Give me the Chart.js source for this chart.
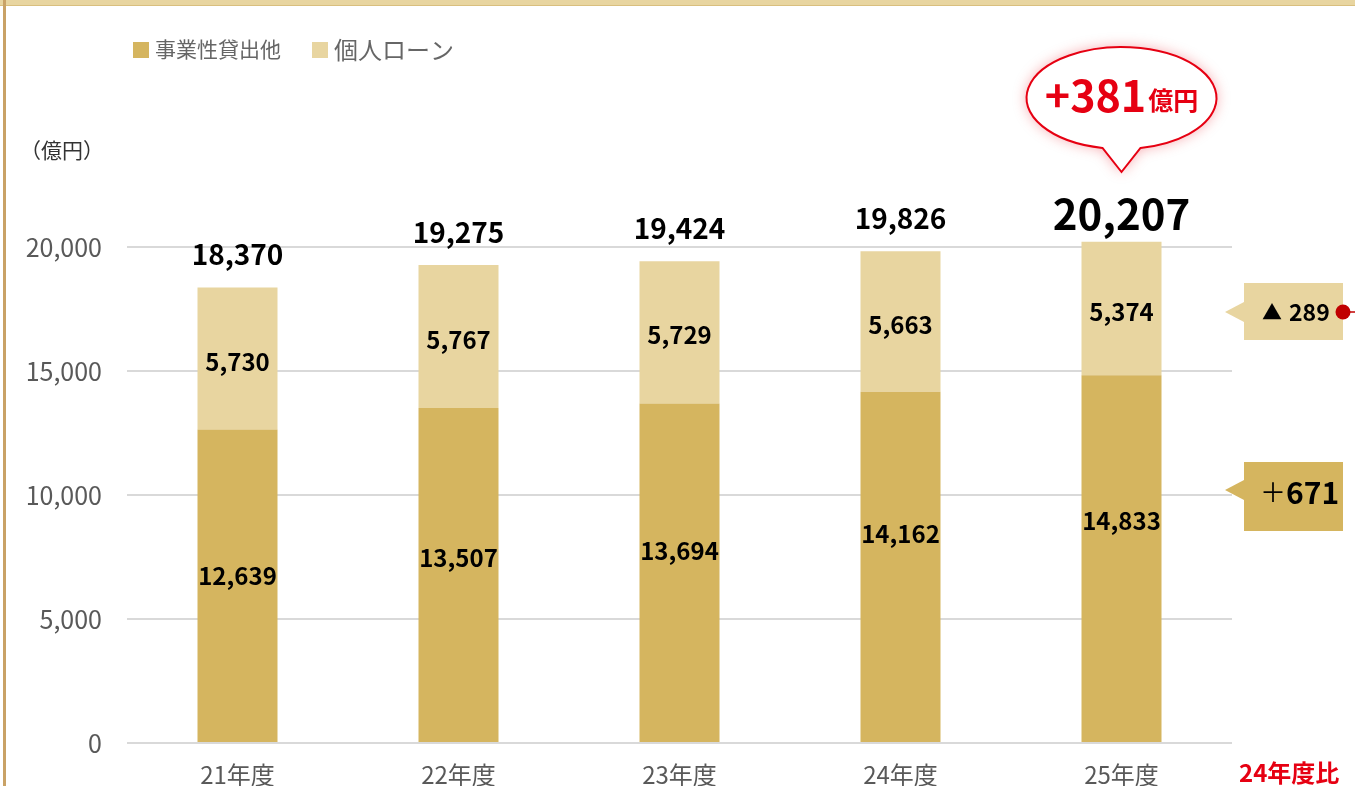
<!DOCTYPE html>
<html lang="ja">
<head>
<meta charset="utf-8" />
<title>貸出金残高の推移</title>
<style>
html,body{margin:0;padding:0;background:#fff;}
#wrap{position:relative;width:1355px;height:786px;overflow:hidden;}
#topband{position:absolute;left:0;top:0;width:1355px;height:5px;background:#e8d5a0;border-bottom:1px solid #d9bf7e;}
#leftline{position:absolute;left:3px;top:0;width:3px;height:786px;background:#c9a266;}
canvas{position:absolute;left:0;top:0;}
</style>
</head>
<body>
<div id="wrap">
  <canvas id="chart" width="1355" height="786"></canvas>
  <div id="topband"></div>
  <div id="leftline"></div>
</div>

<script src="https://cdn.jsdelivr.net/npm/chart.js@4.4.1"></script>
<script>
/* ─────────── data ─────────── */
const years     = ['21年度','22年度','23年度','24年度','25年度'];
const business  = [12639, 13507, 13694, 14162, 14833];   // 事業性貸出他
const personal  = [5730, 5767, 5729, 5663, 5374];        // 個人ローン
const totals    = [18370, 19275, 19424, 19826, 20207];
const seriesNames = ['事業性貸出他','個人ローン'];
const diffPersonal = '289';   // ▲
const diffBusiness = '671';   // ＋
const diffTotal    = '381';

const DARK  = '#d5b55f';
const LIGHT = '#e8d5a0';
const RED   = '#e60012';
const FONT  = '"Noto Sans CJK JP","Noto Sans",sans-serif';

/* ─────────── labels, callout, side notes ─────────── */
const decor = {
    id:'decor',
    afterDatasetsDraw(chart){
        const {ctx, scales:{x,y}} = chart;
        const fmt = v => v.toLocaleString('en-US');
        ctx.save();
        ctx.textAlign = 'center';
        ctx.textBaseline = 'middle';
        ctx.fillStyle = '#000';

        // segment labels (business labels sit a bit above the middle in the original)
        const nudge = [-10,-18,-22,-34,-38];
        ctx.font = 'bold 24px ' + FONT;
        years.forEach((_,i)=>{
            const cx = x.getPixelForValue(i);
            const yb = (y.getPixelForValue(0) + y.getPixelForValue(business[i]))/2 + nudge[i];
            ctx.fillText(fmt(business[i]), cx, yb);
            const yp = (y.getPixelForValue(business[i]) + y.getPixelForValue(business[i]+personal[i]))/2 + 3;
            ctx.fillText(fmt(personal[i]), cx, yp);
        });

        // totals
        years.forEach((_,i)=>{
            const cx = x.getPixelForValue(i);
            const top = y.getPixelForValue(business[i]+personal[i]);
            const last = i === years.length-1;
            ctx.font = 'bold ' + (last ? 42 : 28) + 'px ' + FONT;
            ctx.fillText(fmt(totals[i]), cx, top - (last ? 28 : 33));
        });

        // callout bubble over last bar
        const cx = x.getPixelForValue(years.length-1), cy = 98, rx = 95, ry = 51;
        const tipY = 172, half = 19;
        const a1 = Math.acos(-half/rx), a2 = Math.acos(half/rx) + Math.PI*2;
        ctx.save();
        ctx.beginPath();
        ctx.moveTo(cx, tipY);
        ctx.ellipse(cx, cy, rx, ry, 0, a1, a2);
        ctx.closePath();
        ctx.shadowColor = 'rgba(230,0,18,0.35)';
        ctx.shadowBlur = 14;
        ctx.fillStyle = '#fff';
        ctx.fill();
        ctx.shadowColor = 'transparent';
        ctx.strokeStyle = RED;
        ctx.lineWidth = 2;
        ctx.stroke();
        ctx.restore();

        ctx.fillStyle = RED;
        ctx.textBaseline = 'alphabetic';
        ctx.font = 'bold 43px ' + FONT;
        const big = '+' + diffTotal;
        const wBig = ctx.measureText(big).width;
        ctx.font = 'bold 25px ' + FONT;
        const unit = '億円';
        const wUnit = ctx.measureText(unit).width;
        const sx = cx - (wBig + wUnit + 2)/2;
        ctx.textAlign = 'left';
        ctx.font = 'bold 43px ' + FONT;
        ctx.fillText(big, sx, 112);
        ctx.font = 'bold 25px ' + FONT;
        ctx.fillText(unit, sx + wBig + 2, 110);

        // side notes
        const box = (top, h, tipYp, color) => {
            const bx = 1244, bw = 99;
            ctx.fillStyle = color;
            ctx.fillRect(bx, top, bw, h);
            ctx.beginPath();
            ctx.moveTo(bx, tipYp - 10);
            ctx.lineTo(bx - 19, tipYp);
            ctx.lineTo(bx, tipYp + 10);
            ctx.closePath();
            ctx.fill();
        };
        box(283, 57, 312, LIGHT);
        box(462, 69, 490, DARK);

        ctx.fillStyle = '#000';
        ctx.textBaseline = 'middle';
        ctx.textAlign = 'left';
        ctx.font = 'bold 20px ' + FONT;
        ctx.fillText('▲', 1262, 312);
        ctx.font = 'bold 23px ' + FONT;
        ctx.fillText(diffPersonal, 1289, 312);
        ctx.font = '26px ' + FONT;
        ctx.fillText('＋', 1260, 492);
        ctx.font = 'bold 30px ' + FONT;
        ctx.fillText(diffBusiness, 1286, 493);

        // red dot + line
        ctx.strokeStyle = '#c00000';
        ctx.lineWidth = 1.5;
        ctx.beginPath();
        ctx.moveTo(1343, 312);
        ctx.lineTo(1355, 312);
        ctx.stroke();
        ctx.fillStyle = '#c00000';
        ctx.beginPath();
        ctx.arc(1343, 312, 7.5, 0, Math.PI*2);
        ctx.fill();

        // 24年度比
        ctx.fillStyle = RED;
        ctx.textAlign = 'left';
        ctx.font = 'bold 24px ' + FONT;
        ctx.fillText('24年度比', 1239, 773);

        // unit label
        ctx.fillStyle = '#333';
        ctx.font = '21px ' + FONT;
        ctx.fillText('（億円）', 20, 150);

        // legend
        ctx.fillStyle = DARK;
        ctx.fillRect(133, 42, 16, 16);
        ctx.fillStyle = LIGHT;
        ctx.fillRect(312, 42, 16, 16);
        ctx.fillStyle = '#666';
        ctx.font = '21px ' + FONT;
        ctx.fillText(seriesNames[0], 155, 49);
        ctx.font = '24px ' + FONT;
        ctx.fillText(seriesNames[1], 334, 50);

        ctx.restore();
    }
};

Chart.defaults.animation = false;
Chart.defaults.font.family = FONT;

new Chart(document.getElementById('chart'), {
    type:'bar',
    data:{
        labels:years,
        datasets:[
            {label:seriesNames[0], data:business, backgroundColor:DARK},
            {label:seriesNames[1], data:personal, backgroundColor:LIGHT}
        ]
    },
    options:{
        responsive:false,
        layout:{padding:{top:123,right:123,left:0,bottom:0}},
        datasets:{bar:{barPercentage:0.362,categoryPercentage:1,borderWidth:0}},
        plugins:{legend:{display:false},tooltip:{enabled:false}},
        scales:{
            x:{
                stacked:true,
                grid:{display:false,drawTicks:false},
                border:{display:false},
                ticks:{color:'#595959',font:{size:24,lineHeight:1},padding:20},
                afterFit(s){ s.height = 43; }
            },
            y:{
                stacked:true,
                min:0,max:25000,
                ticks:{stepSize:5000,color:'#595959',font:{size:25},padding:25,
                       callback:v=>v.toLocaleString('en-US')},
                afterBuildTicks(s){ s.ticks = s.ticks.filter(t=>t.value<=20000); },
                grid:{color:'#d9d9d9',lineWidth:2,drawTicks:false},
                border:{display:false},
                afterFit(s){ s.width = 127; }
            }
        }
    },
    plugins:[decor]
});
</script>
</body>
</html>
